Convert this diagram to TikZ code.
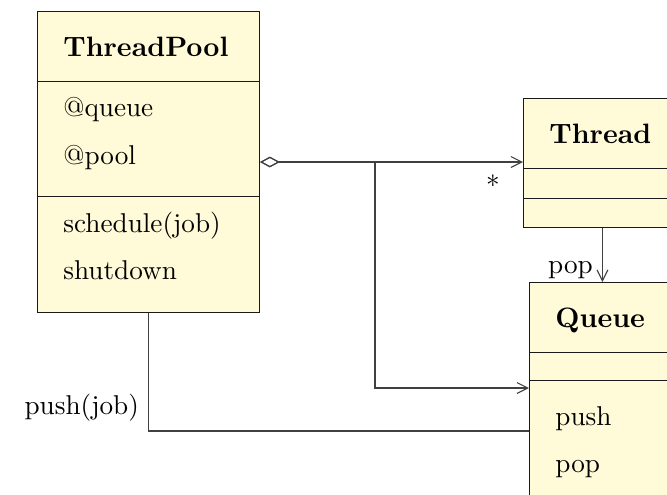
\documentclass[tikz,border=0pt]{standalone}
\usepackage{tikz}
\usetikzlibrary{positioning, arrows.meta, shapes.multipart}

\definecolor{classfill}{RGB}{255,250,215}
\newcommand{\umltitle}[1]{\rule[-4.8pt]{0pt}{17.3pt}{\fontsize{10.3pt}{12pt}\selectfont\textbf{#1}}}
\newcommand{\umlrow}[1]{\rule[-7.7pt]{0pt}{16.5pt}#1}

\begin{document}
\begin{tikzpicture}[
    x=0.3676pt, y=-0.3676pt,
    class/.style={rectangle split, rectangle split parts=3, draw=black!90, fill=classfill, align=left, inner xsep=9.5pt, inner ysep=4pt, anchor=north west},
    link/.style={draw=black!75},
    tip/.style={-{Straight Barb[length=4pt, width=4pt]}},
    aggr/.style={{Diamond[open, length=7.2pt, width=3.9pt]}-{Straight Barb[length=4pt, width=4pt]}}
]
    \useasboundingbox (0,0) rectangle (667,494);
    \clip (0,0) rectangle (667,494);

    % Classes
    \node (pool) [class, text width=62.6pt] at (37,11) {
        \umltitle{ThreadPool}
        \nodepart{two}\umlrow{@queue}\\\umlrow{@pool}
        \nodepart{three}\umlrow{schedule(job)}\\\umlrow{shutdown}
    };

    \node (thread) [class, text width=39pt] at (523,98) {
        \umltitle{Thread}
        \nodepart{two}\rule{0pt}{2.8pt}
        \nodepart{three}\rule{0pt}{2.0pt}
    };

    \node (queue) [class, text width=39pt] at (529,282) {
        \umltitle{Queue}
        \nodepart{two}\rule{0pt}{2.0pt}
        \nodepart{three}\umlrow{\rule{0pt}{12.2pt}push}\\\umlrow{pop}
    };

    % Connector end points
    \coordinate (agg) at (pool.east |- 0,162);
    \coordinate (fork) at (375,162);
    \coordinate (qin) at (queue.west |- 0,388);
    \coordinate (qpush) at (queue.west |- 0,431);

    % Aggregation to Thread and Queue
    \draw [link, aggr] (agg) -- node[pos=1, below left=1pt and 5pt] {$*$} (agg -| thread.west);
    \draw [link, aggr] (agg) -- (fork) |- (qin);

    % Calls
    \draw [link, tip] (thread.south) -- node[pos=0.78, left] {pop} (thread.south |- queue.north);
    \draw [link] (pool.south) |- node[above left] {push(job)} (qpush);

\end{tikzpicture}
\end{document}
